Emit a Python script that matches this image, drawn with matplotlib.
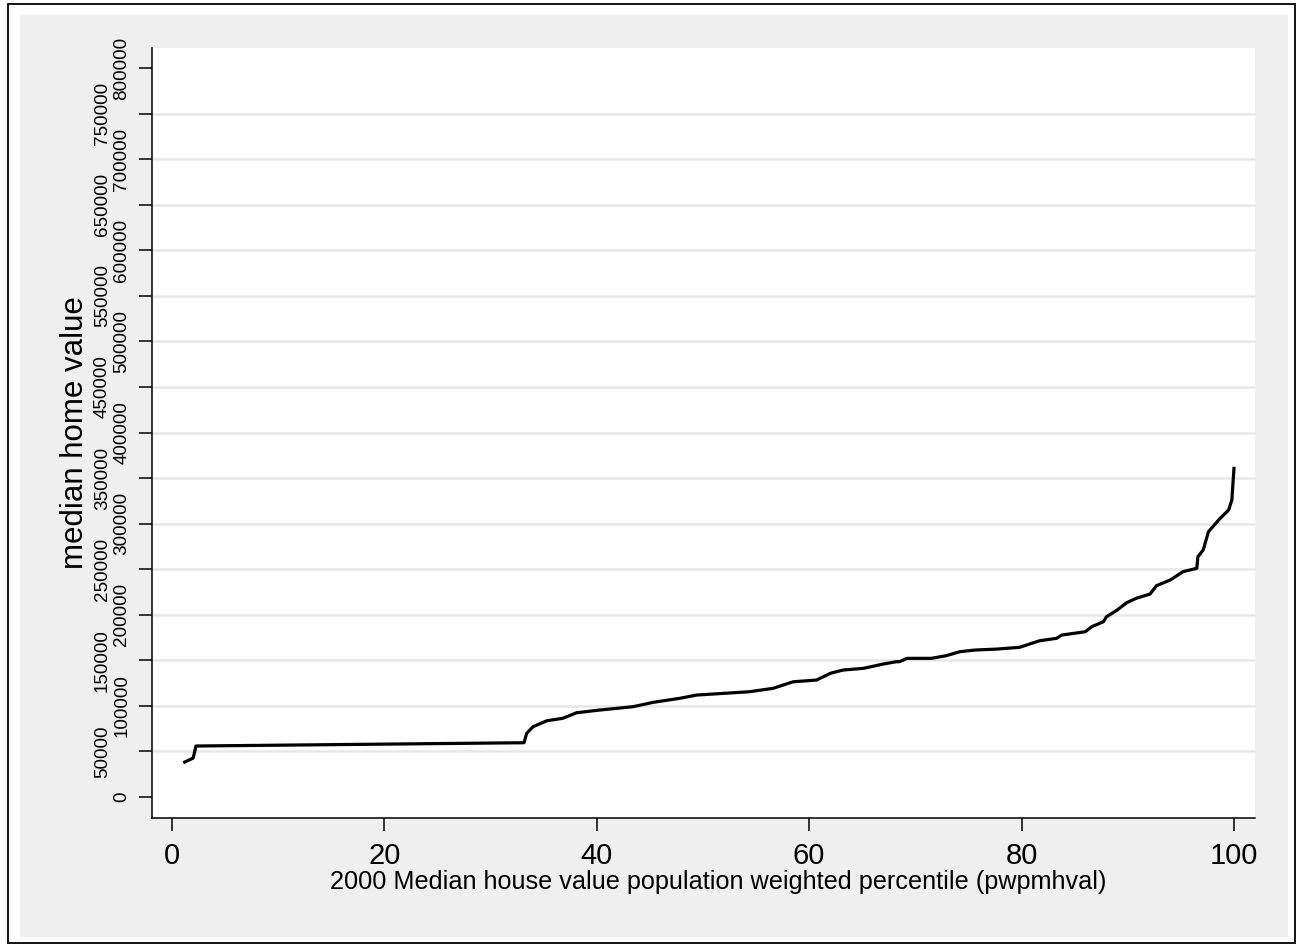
import matplotlib
matplotlib.use("Agg")
import matplotlib.pyplot as plt
from matplotlib.patches import Rectangle

plt.rcParams['font.family'] = ['Liberation Sans', 'DejaVu Sans']

# Data
pct = [1.2, 2.0, 2.26, 33.15, 33.4, 34.0, 35.3, 36.8, 38.1, 40.3, 43.4, 45.3,
       47.8, 49.4, 54.4, 56.6, 58.5, 60.7, 62.0, 63.2, 65.1, 67.0, 68.2, 68.5,
       69.2, 71.5, 72.9, 74.2, 75.6, 77.7, 79.8, 81.7, 83.3, 83.8, 86.0, 86.6,
       87.7, 88.0, 89.0, 89.9, 90.8, 92.1, 92.7, 94.0, 95.2, 96.5, 96.6, 97.1,
       97.6, 98.7, 99.5, 99.8, 100.0]
value = [38400, 42800, 56000, 59600, 69900, 77200, 83700, 86400, 92500, 95500,
         99100, 103900, 108300, 111900, 115600, 119300, 126500, 128400, 135800,
         139400, 141200, 146000, 148500, 148500, 152200, 152200, 155100, 159500,
         161300, 162400, 164300, 171500, 174200, 177800, 181400, 186900, 192400,
         197900, 205200, 213300, 218100, 222800, 231900, 238200, 247300, 251000,
         263700, 271100, 291200, 305900, 315000, 326000, 360700]

y_ticks = list(range(0, 800001, 50000))
x_ticks = [0, 20, 40, 60, 80, 100]
x_label = "2000 Median house value population weighted percentile (pwpmhval)"
y_label = "median home value"

W, H = 1299, 946
fig = plt.figure(figsize=(W / 100, H / 100), dpi=100)
fig.patch.set_facecolor('white')

# outer border and gray background
fig.patches.append(Rectangle((8 / W, 1 - 943 / H), (1295 - 8) / W, (943 - 4) / H,
                             transform=fig.transFigure, facecolor='white',
                             edgecolor='black', lw=1.3, zorder=-20))
fig.patches.append(Rectangle((20 / W, 1 - 937 / H), (1288 - 20) / W, (937 - 15) / H,
                             transform=fig.transFigure, facecolor='#EFEFEF',
                             edgecolor='none', zorder=-10))

ax = fig.add_axes([152 / W, 1 - 818 / H, (1255 - 152) / W, (818 - 48) / H])
ax.set_facecolor('white')

ax.set_xlim(-1.88, 101.98)
ax.set_ylim(-23000, 822000)

# gridlines (not at the extreme ticks)
ax.hlines(y_ticks[1:-1], -1.88, 101.98, colors='#E6E6E6', lw=1.8, zorder=1)

ax.plot(pct, value, color='black', lw=2.3, zorder=3, solid_joinstyle='round')

for s in ['top', 'right']:
    ax.spines[s].set_visible(False)
for s in ['left', 'bottom']:
    ax.spines[s].set_linewidth(1.1)
    ax.spines[s].set_color('black')

ax.set_xticks(x_ticks)
ax.set_xticklabels([str(v) for v in x_ticks], fontsize=21)
ax.tick_params(axis='x', length=9, width=1.1, pad=8)

ax.set_yticks(y_ticks)
ax.set_yticklabels([str(v) for v in y_ticks], fontsize=13.6, rotation=90,
                   va='center')
ax.tick_params(axis='y', length=9.5, width=1.1)
for i, t in enumerate(ax.yaxis.get_major_ticks()):
    t.set_pad(6 if i % 2 == 0 else 20)

ax.set_xlabel(x_label, fontsize=18.2)
ax.xaxis.set_label_coords(0.513, -0.0675)
ax.set_ylabel(y_label, fontsize=22.5)
ax.yaxis.set_label_coords(-0.0566, 0.5)

fig.savefig('out.png', dpi=100, facecolor='white')
